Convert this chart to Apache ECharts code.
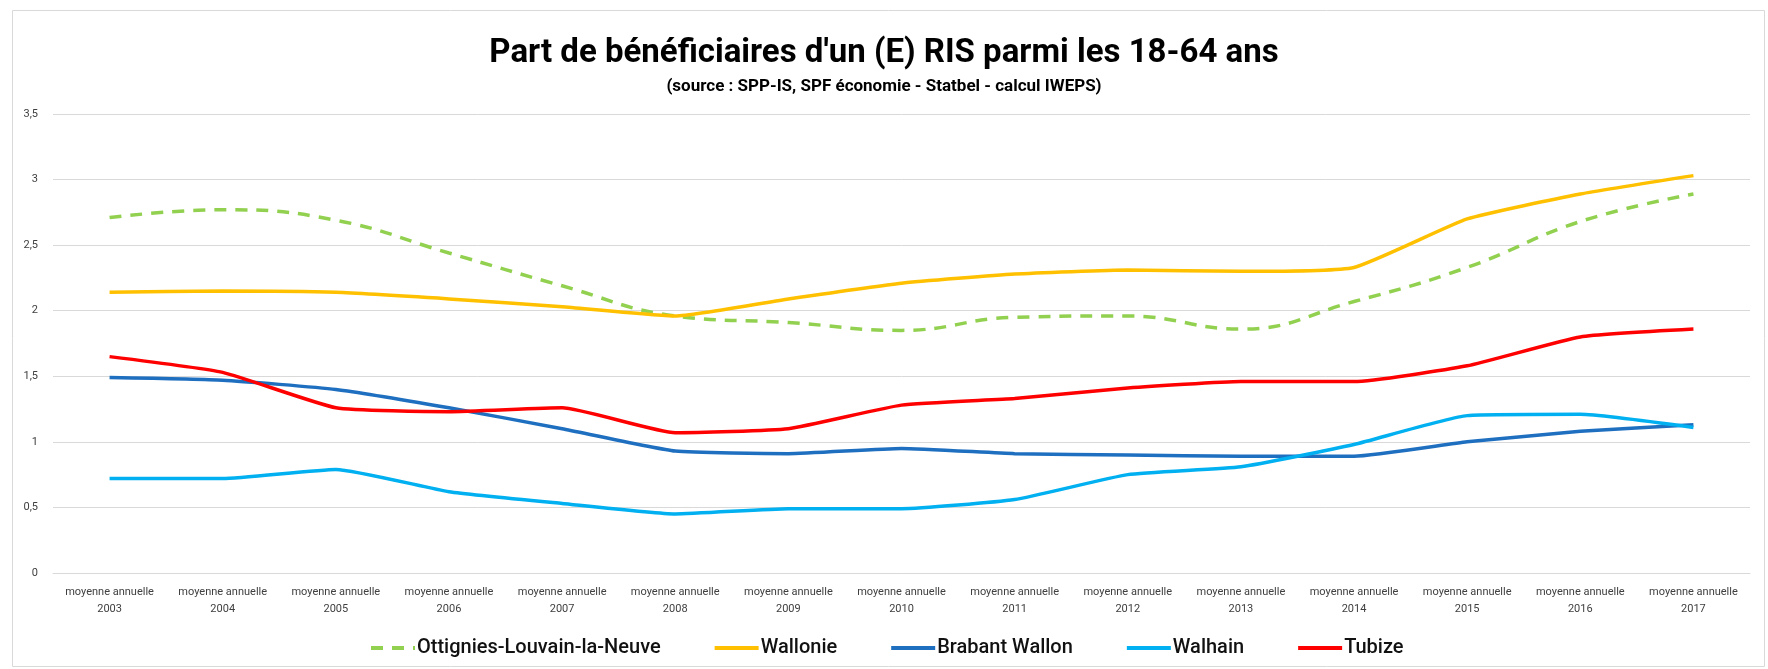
<!DOCTYPE html>
<html>
<head>
<meta charset="utf-8">
<script src="https://cdn.jsdelivr.net/npm/echarts@6/dist/echarts.min.js"></script>
<style>
    html, body { margin: 0; padding: 0; background: #fff; }
    #chart { width: 1768px; height: 669px; }
</style>
</head>
<body>
<div id="chart"></div>
<script>
    var years = ['2003', '2004', '2005', '2006', '2007', '2008', '2009', '2010', '2011', '2012', '2013', '2014', '2015', '2016', '2017'];
    var yTicks = ['0', '0,5', '1', '1,5', '2', '2,5', '3', '3,5'];

    var ottignies = [2.71, 2.77, 2.69, 2.44, 2.19, 1.96, 1.91, 1.85, 1.95, 1.96, 1.86, 2.07, 2.33, 2.68, 2.89];
    var wallonie = [2.14, 2.15, 2.14, 2.09, 2.03, 1.96, 2.09, 2.21, 2.28, 2.31, 2.30, 2.33, 2.70, 2.89, 3.03];
    var brabantWallon = [1.49, 1.47, 1.40, 1.26, 1.10, 0.93, 0.91, 0.95, 0.91, 0.90, 0.89, 0.89, 1.00, 1.08, 1.13];
    var walhain = [0.72, 0.72, 0.79, 0.62, 0.53, 0.45, 0.49, 0.49, 0.56, 0.75, 0.81, 0.98, 1.20, 1.21, 1.11];
    var tubize = [1.65, 1.53, 1.26, 1.23, 1.26, 1.07, 1.10, 1.28, 1.33, 1.41, 1.46, 1.46, 1.58, 1.80, 1.86];

    var font = "'Roboto', sans-serif";
    var myChart = echarts.init(document.getElementById('chart'));

    function lineSerie(name, data, color, dashed, smooth) {
        return {
            name: name,
            type: 'line',
            data: data,
            symbol: 'none',
            smooth: smooth,
            lineStyle: { color: color, width: 3.5, type: dashed ? [12, 9] : 'solid' },
            itemStyle: { color: color },
            z: 3
        };
    }

    myChart.setOption({
        animation: false,
        title: [
            {
                text: "Part de bénéficiaires d'un (E) RIS parmi les 18-64 ans",
                left: 879, top: 32, textAlign: 'center',
                textStyle: { fontFamily: font, fontSize: 33, fontWeight: 'bold', color: '#000' }
            },
            {
                text: '(source : SPP-IS, SPF économie - Statbel - calcul IWEPS)',
                left: 879, top: 73, textAlign: 'center',
                textStyle: { fontFamily: font, fontSize: 17, fontWeight: 'bold', color: '#000' }
            }
        ],
        graphic: [{
            type: 'rect',
            shape: { x: 12.5, y: 10.5, width: 1752, height: 656 },
            style: { fill: 'none', stroke: '#d9d9d9', lineWidth: 1 },
            silent: true
        }],
        legend: {
            left: 369, top: 638, padding: 0,
            itemWidth: 44, itemHeight: 4, itemGap: 52,
            itemStyle: { opacity: 0 },
            lineStyle: { width: 4 },
            textStyle: { fontFamily: font, fontSize: 20, fontWeight: 500, color: '#111', padding: [0, 0, 0, -3] },
            data: ['Ottignies-Louvain-la-Neuve', 'Wallonie', 'Brabant Wallon', 'Walhain', 'Tubize']
        },
        grid: { left: 53, right: 18, top: 114, bottom: 96 },
        xAxis: {
            type: 'category',
            data: years,
            boundaryGap: true,
            axisLine: { show: true, lineStyle: { color: '#d9d9d9', width: 1 } },
            axisTick: { show: false },
            axisLabel: {
                interval: 0, margin: 11, lineHeight: 17,
                fontFamily: font, fontSize: 11, color: '#404040',
                formatter: function (v) { return 'moyenne annuelle\n' + v; }
            }
        },
        yAxis: {
            type: 'value',
            min: 0, max: 3.5, interval: 0.5,
            axisLine: { show: false },
            axisTick: { show: false },
            splitLine: { lineStyle: { color: '#d9d9d9', width: 1 } },
            axisLabel: {
                margin: 15, fontFamily: font, fontSize: 11, color: '#404040',
                formatter: function (v) { return yTicks[Math.round(v * 2)]; }
            }
        },
        series: [
            lineSerie('Ottignies-Louvain-la-Neuve', ottignies, '#92D050', true, 0.45),
            lineSerie('Wallonie', wallonie, '#FFC000', false, 0.15),
            lineSerie('Brabant Wallon', brabantWallon, '#1F6FC0', false, 0.15),
            lineSerie('Walhain', walhain, '#00B0F0', false, 0.15),
            lineSerie('Tubize', tubize, '#FF0000', false, 0.15)
        ]
    });
</script>
</body>
</html>
